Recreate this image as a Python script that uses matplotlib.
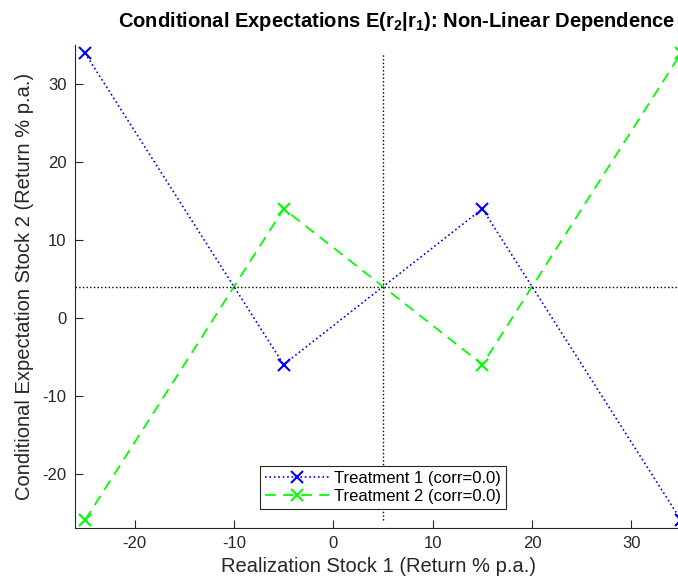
import matplotlib.pyplot as plt

plt.rcParams['font.family'] = ['Liberation Sans', 'DejaVu Sans']
plt.rcParams['axes.unicode_minus'] = False

# realizations of stock 1 and conditional expectations of stock 2
r1 = [-25, -5, 15, 35]
treat1 = [34, -6, 14, -26]
treat2 = [-26, 14, -6, 34]
labels = ['Treatment 1 (corr=0.0)', 'Treatment 2 (corr=0.0)']
mean_r1 = 5
mean_r2 = 4

fig = plt.figure(figsize=(6.78, 5.88), dpi=100)
ax = fig.add_axes([0.1106, 0.102, 0.894, 0.821])

ax.plot(r1, treat1, ':', color='#0000ff', marker='x', markersize=9, mew=1.5, lw=1.2, label=labels[0])
ax.plot(r1, treat2, '--', color='#00ff00', marker='x', markersize=9, mew=1.5, lw=1.3,
        dashes=(6, 4), label=labels[1])

# mean lines
ax.plot([-26, 35], [mean_r2, mean_r2], ':', color='k', lw=1)
ax.plot([mean_r1, mean_r1], [-26, 34], ':', color='k', lw=1)

ax.set_xlim(-26, 35)
ax.set_ylim(-27, 35)
ax.set_xticks([-20, -10, 0, 10, 20, 30])
ax.set_yticks([-20, -10, 0, 10, 20, 30])
ax.spines['top'].set_visible(False)
ax.spines['right'].set_visible(False)
ax.spines['left'].set_color('#262626')
ax.spines['bottom'].set_color('#262626')
ax.tick_params(direction='in', length=6, labelsize=12, colors='#262626', pad=6)

ax.set_xlabel('Realization Stock 1 (Return % p.a.)', fontsize=14.5, color='#262626', labelpad=4)
ax.set_ylabel('Conditional Expectation Stock 2 (Return % p.a.)', fontsize=14.5, color='#262626', labelpad=6)
ax.set_title('Conditional Expectations E(r$_\\mathregular{2}$|r$_\\mathregular{1}$): Non-Linear Dependence',
             fontsize=14.5, fontweight='bold', pad=13, x=0.53)

leg = ax.legend(loc='lower center', bbox_to_anchor=(0.508, 0.022), fontsize=12,
                fancybox=False, edgecolor='#262626', framealpha=1,
                handlelength=3.8, borderpad=0.3, labelspacing=0.2, handletextpad=0.3)
leg.get_frame().set_linewidth(0.8)

fig.savefig('out.png', dpi=100)
